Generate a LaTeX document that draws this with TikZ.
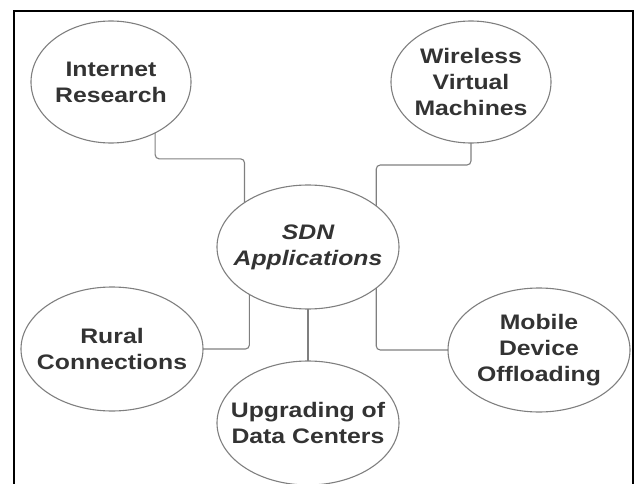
\documentclass[tikz,border=0pt]{standalone}
\usepackage{fontspec}
\newfontfamily\appfont[FakeStretch=1.18]{Liberation Sans}
\usetikzlibrary{shapes.geometric}
\definecolor{textgray}{HTML}{333333}
\definecolor{edgegray}{HTML}{7F7F7F}
\newcommand{\ellipsecolor}{edgegray}
\newcommand{\linkcolor}{edgegray}
\newcommand{\linkwidth}{1.1pt}

\tikzset{
	apptext/.style={font=\appfont\bfseries\fontsize{21}{26}\selectfont, text=textgray, align=center},
	app/.style={ellipse, draw=\ellipsecolor, line width=1.1pt, outer sep=0pt, inner sep=0pt,
		minimum width=182pt, minimum height=124pt, label={[apptext]center:#1}},
	smallapp/.style={app={#1}, minimum width=160pt, minimum height=122pt},
	link/.style={draw=\linkcolor, line width=\linkwidth, rounded corners=4pt},
}

\begin{document}
\begin{tikzpicture}[x=1pt, y=-1pt]
	\useasboundingbox (0,0) rectangle (635,484);
	\draw[line width=1.6pt] (14,11) rectangle (633,500);

	\node[app={\itshape SDN\\\itshape Applications}] (sdn) at (308,247) {};
	\node[smallapp={Internet\\Research}] (ir) at (111,82) {};
	\node[smallapp={Wireless\\Virtual\\Machines}] (wvm) at (471,82) {};
	\node[app={Rural\\Connections}] (rc) at (112,349) {};
	\node[app={Mobile\\Device\\Offloading}] (mdo) at (539,350) {};
	\node[app={Upgrading of\\Data Centers}] (udc) at (308,423) {};

	% links to the centre
	\draw[link] (ir.-49) -- ++(0,26) -| (sdn.145);
	\draw[link] (wvm.south) -- ++(0,22) -| (sdn.31);
	\draw[link] (rc.east) -| (sdn.219);
	\draw[link] (mdo.west) -| (sdn.-31);
	\draw[link] (sdn.south) -- (udc.north);
\end{tikzpicture}
\end{document}
